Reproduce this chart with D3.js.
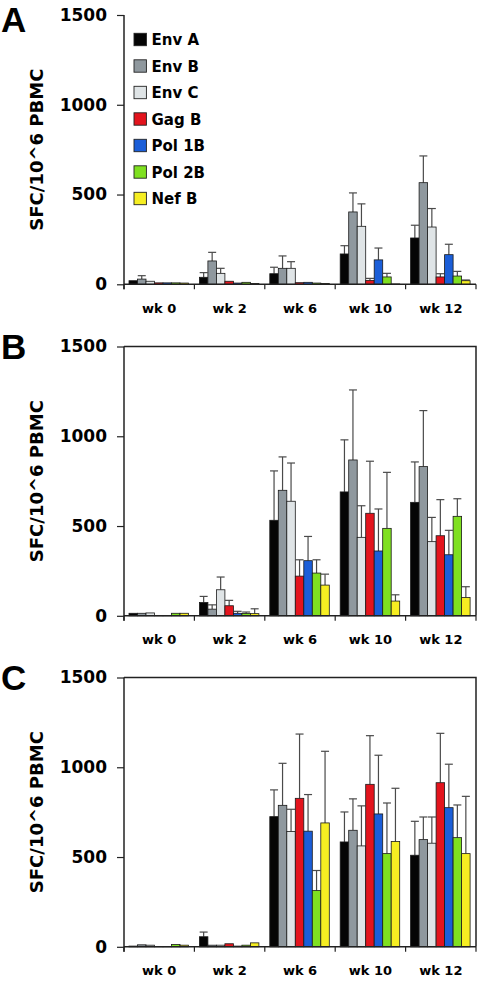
<!DOCTYPE html>
<html>
<head>
<meta charset="utf-8">
<script src="https://cdn.jsdelivr.net/npm/d3@7"></script>
<style>
  html, body { margin: 0; padding: 0; background: #fff; }
  svg { display: block; }
</style>
</head>
<body>
<svg id="chart" width="480" height="986"></svg>
<script>
// ---------------- DATA ----------------
const weeks = ["wk 0", "wk 2", "wk 6", "wk 10", "wk 12"];
const seriesNames = ["Env A", "Env B", "Env C", "Gag B", "Pol 1B", "Pol 2B", "Nef B"];
const seriesColors = ["#050505", "#8f989e", "#dfe4e6", "#e3141d", "#1b5ed8", "#7fe020", "#f6ee22"];
const yTicks = [0, 500, 1000, 1500];
const panelLabels = ["A", "B", "C"];

// values: one row per series, one column per week
const valuesA = [
  [20, 39, 59, 169, 258],
  [29, 130, 89, 403, 566],
  [17, 61, 89, 323, 319],
  [8, 17, 9, 22, 41],
  [8, 7, 11, 136, 165],
  [8, 11, 7, 41, 46],
  [7, 4, 4, 2, 20]
];
const errorsA = [
  [0, 26, 36, 46, 71],
  [19, 48, 69, 106, 149],
  [0, 28, 37, 125, 103],
  [0, 0, 0, 11, 18],
  [0, 0, 0, 66, 58],
  [0, 0, 0, 20, 26],
  [0, 0, 0, 0, 4]
];
const valuesB = [
  [14, 74, 532, 690, 632],
  [14, 37, 699, 868, 831],
  [16, 145, 638, 437, 413],
  [2, 56, 221, 571, 446],
  [2, 14, 307, 361, 340],
  [14, 13, 238, 487, 554],
  [14, 12, 171, 82, 102]
];
const errorsB = [
  [0, 34, 275, 290, 225],
  [0, 24, 186, 390, 312],
  [0, 71, 213, 176, 135],
  [0, 30, 91, 290, 201],
  [0, 11, 135, 234, 136],
  [0, 8, 74, 312, 98],
  [0, 27, 61, 35, 60]
];
const valuesC = [
  [4, 56, 725, 584, 510],
  [11, 9, 788, 649, 597],
  [9, 9, 642, 562, 577],
  [2, 17, 827, 905, 914],
  [2, 4, 644, 740, 775],
  [13, 9, 313, 519, 608],
  [9, 22, 690, 586, 519]
];
const errorsC = [
  [0, 26, 149, 167, 189],
  [0, 0, 234, 175, 126],
  [0, 0, 124, 223, 146],
  [0, 0, 358, 271, 275],
  [0, 0, 204, 327, 242],
  [0, 0, 112, 282, 182],
  [0, 0, 399, 297, 319]
];
const panelValues = [valuesA, valuesB, valuesC];
const panelErrors = [errorsA, errorsB, errorsC];

// ---------------- LAYOUT ----------------
const svg = d3.select("#chart");
svg.append("rect").attr("width", 480).attr("height", 986).attr("fill", "#fff");

const xLeft = 124, xRight = 476;
const baselines = [284.3, 615.8, 946.8];
const letterY = [32, 358.5, 690];
const plotH = 269.3;
const boldFont = "'DejaVu Sans', sans-serif";

const x0 = d3.scaleBand().domain(weeks).range([xLeft, xRight]).padding(0);
const x1 = d3.scaleBand().domain(seriesNames).range([5, 64.5]).padding(0);
const color = d3.scaleOrdinal().domain(seriesNames).range(seriesColors);

panelValues.forEach((vals, p) => {
  const y0 = baselines[p];
  const y = d3.scaleLinear().domain([0, 1500]).range([y0, y0 - plotH]);
  const g = svg.append("g");
  const errs = panelErrors[p];

  // frame (panels B and C)
  if (p > 0) {
    g.append("path")
      .attr("d", `M${xLeft},${y(1500)}H${xRight}V${y0}`)
      .attr("fill", "none").attr("stroke", "#222").attr("stroke-width", 1.5);
  }

  const rows = [];
  seriesNames.forEach((s, si) => {
    weeks.forEach((w, wi) => {
      rows.push({ s, w, v: vals[si][wi], e: errs[si][wi] });
    });
  });

  // error bars (upper only)
  const eb = g.append("g").attr("stroke", "#4a4a4a").attr("stroke-width", 1.2).attr("fill", "none");
  rows.filter(d => d.e > 0).forEach(d => {
    const cx = x0(d.w) + x1(d.s) + x1.bandwidth() / 2;
    eb.append("line").attr("x1", cx).attr("x2", cx).attr("y1", y(d.v)).attr("y2", y(d.v + d.e));
    eb.append("line").attr("x1", cx - 4).attr("x2", cx + 4).attr("y1", y(d.v + d.e)).attr("y2", y(d.v + d.e));
  });

  // bars
  g.append("g").selectAll("rect").data(rows).join("rect")
    .attr("x", d => x0(d.w) + x1(d.s))
    .attr("y", d => y(d.v))
    .attr("width", x1.bandwidth())
    .attr("height", d => y0 - y(d.v))
    .attr("fill", d => color(d.s))
    .attr("stroke", "#1a1a1a")
    .attr("stroke-width", 0.8);

  // y axis
  const yAxis = d3.axisLeft(y).tickValues(yTicks).tickFormat(d3.format("d"))
    .tickSize(7).tickPadding(10).tickSizeOuter(0);
  const ya = g.append("g").attr("transform", `translate(${xLeft},0)`).call(yAxis);
  ya.select(".domain").attr("stroke", "#222").attr("stroke-width", 1.5)
    .attr("d", `M0,${y(1500)}V${y0 + 5}`);
  ya.selectAll(".tick line").attr("stroke", "#222").attr("stroke-width", 1.2);
  ya.selectAll(".tick text").attr("font-family", boldFont).attr("font-weight", "bold")
    .attr("font-size", 17).attr("fill", "#000");

  // x axis
  const xAxis = d3.axisBottom(x0).tickSize(0).tickPadding(19);
  const xa = g.append("g").attr("transform", `translate(0,${y0})`).call(xAxis);
  xa.select(".domain").attr("stroke", "#222").attr("stroke-width", 1.5)
    .attr("d", `M${xLeft},0H${xRight}`);
  xa.selectAll(".tick text").attr("font-family", boldFont).attr("font-weight", "bold")
    .attr("font-size", 13).attr("fill", "#000");
  const bounds = weeks.map(w => x0(w)).concat([xRight]);
  xa.append("g").selectAll("line").data(bounds).join("line")
    .attr("x1", d => d).attr("x2", d => d).attr("y1", 0).attr("y2", 5)
    .attr("stroke", "#222").attr("stroke-width", 1.2);

  // y title
  g.append("text")
    .attr("transform", `translate(43,${y0 - plotH / 2}) rotate(-90)`)
    .attr("text-anchor", "middle")
    .attr("font-family", boldFont).attr("font-weight", "bold").attr("font-size", 18)
    .attr("fill", "#000")
    .text("SFC/10^6 PBMC");

  // panel letter
  g.append("text")
    .attr("x", 1).attr("y", letterY[p])
    .attr("font-family", "'Liberation Sans', Arial, sans-serif").attr("font-weight", "bold")
    .attr("font-size", 35).attr("fill", "#000")
    .text(panelLabels[p]);

  // legend (panel A)
  if (p === 0) {
    const lg = g.append("g");
    seriesNames.forEach((s, i) => {
      const cy = 39.5 + i * 26.5;
      lg.append("rect").attr("x", 134).attr("y", cy - 6.2).attr("width", 12.4).attr("height", 12.4)
        .attr("fill", color(s)).attr("stroke", "#222").attr("stroke-width", 0.9);
      lg.append("text").attr("x", 151.5).attr("y", cy + 5.5)
        .attr("font-family", boldFont).attr("font-weight", "bold").attr("font-size", 15)
        .attr("fill", "#000").text(s);
    });
  }
});
</script>
</body>
</html>
